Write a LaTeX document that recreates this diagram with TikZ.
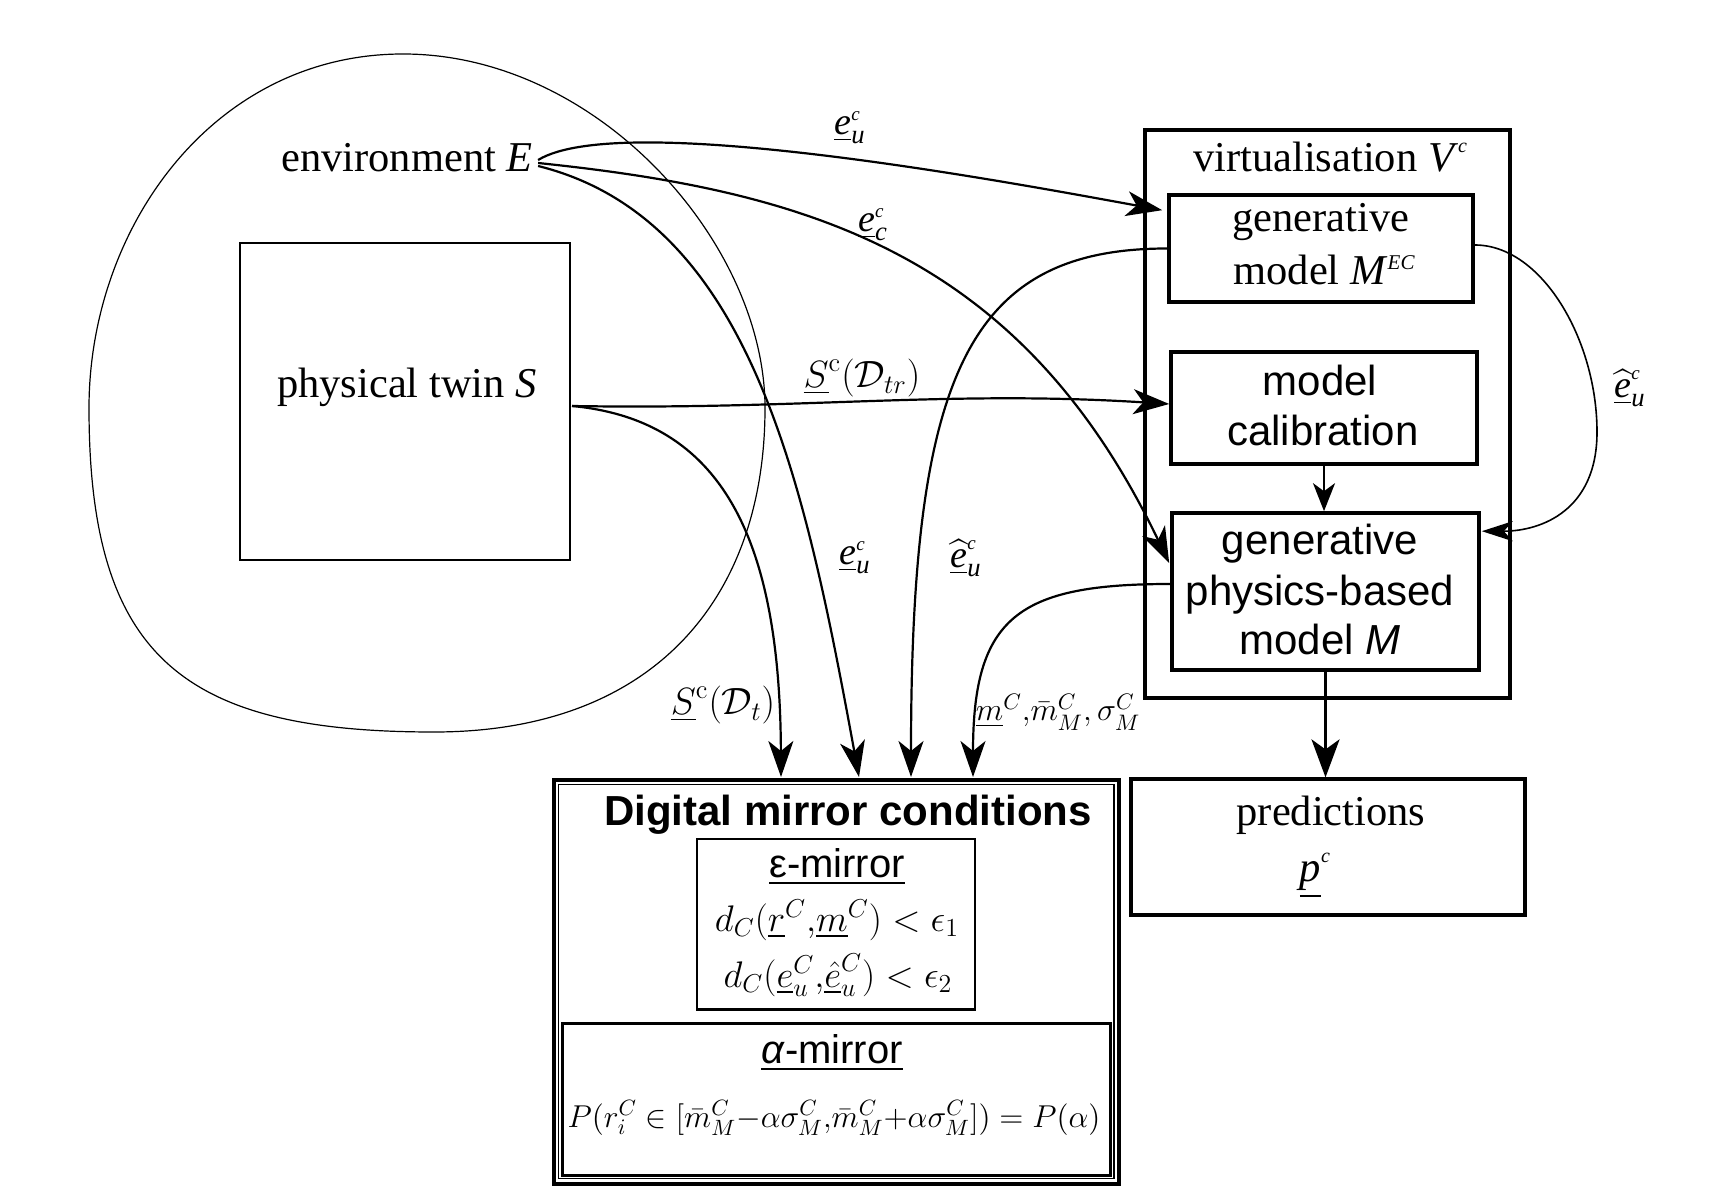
\RequirePackage{fix-cm}
\documentclass[tikz,border=0pt]{standalone}
\usepackage{amsmath}
\usepackage[no-math]{fontspec}
\setmainfont{Liberation Serif}
\setsansfont{Liberation Sans}
\usetikzlibrary{arrows.meta,calc}
\newcommand{\tsup}[3]{\raisebox{#1}{\fontsize{#2}{#2}\selectfont\itshape #3}}
\newcommand{\ue}{\underline{\textit{e}}}
\newcommand{\uhe}{\widehat{\underline{\textit{e}}}}
\newcommand{\elab}[3]{$#1^{\scriptscriptstyle\textit{#3}}_{\textit{#2}}$}
\begin{document}
\begin{tikzpicture}[x=0.5pt,y=-0.5pt,
  box/.style={draw, line width=1.8pt, inner sep=0pt},
  serif/.style={font=\fontsize{21.25pt}{26pt}\selectfont, anchor=base, inner sep=0pt},
  sans/.style={font=\sffamily\fontsize{21pt}{25pt}\selectfont, anchor=base, inner sep=0pt},
  lbl/.style={font=\fontsize{19pt}{22pt}\selectfont, inner sep=0pt},
  conn/.style={line width=1.1pt, -{Stealth[length=18pt,width=12.5pt,inset=5pt]}},
  thinconn/.style={line width=0.8pt, -{Stealth[length=15.5pt,width=10pt,inset=4.5pt]}},
]
\useasboundingbox (0,0) rectangle (1711,1202);

% environment blob
\draw[line width=0.6pt] (403,54) .. controls (598,54) and (765,243) .. (765,408)
  .. controls (765,598) and (654,732) .. (434,732)
  .. controls (184,732) and (89,658) .. (89,408)
  .. controls (89,228) and (213,54) .. cycle;

% left side
\node[serif] (E) at (407,172) {environment \textit{E}};
\node[box, line width=1pt, minimum width=165pt, minimum height=158.5pt] (S) at (405,401.5) {};
\node[serif] (St) at (407,398) {physical twin \textit{S}};

% virtualisation
\node[box, line width=1.6pt, minimum width=182.5pt, minimum height=284pt] (V) at (1327.5,414) {};
\node[serif] (Vt) at (1330,172) {virtualisation \textit{V}\tsup{9.5pt}{10pt}{c}};

\node[box, minimum width=152pt, minimum height=53.5pt] (gm) at (1321,248.5) {};
\node[serif] (gmt1) at (1321,232) {generative};
\node[serif] (gmt2) at (1324,285) {model \textit{M}\tsup{7.5pt}{10.5pt}{EC}};

\node[box, minimum width=153pt, minimum height=56pt] (cal) at (1324,408) {};
\node[sans] (calt1) at (1320,396) {model};
\node[sans] (calt2) at (1323,446) {calibration};

\node[box, minimum width=153.5pt, minimum height=78.5pt] (pm) at (1325.5,591.5) {};
\node[sans] (pmt1) at (1320,555) {generative};
\node[sans] (pmt2) at (1320,605) {physics-based};
\node[sans] (pmt3) at (1320,654.5) {model \textit{M}};

\node[box, line width=1.6pt, minimum width=197pt, minimum height=68pt] (pred) at (1328,847) {};
\node[serif] (predt1) at (1331,825) {predictions};
\node[serif] (predt2) at (1315,881) {\underline{\textit{p}}\tsup{9.5pt}{10pt}{c}};

% digital mirror conditions
\node[draw, line width=2pt, inner sep=0pt, minimum width=282.75pt, minimum height=202pt] (dm) at (836.25,982) {};
\node[draw, line width=0.7pt, inner sep=0pt, minimum width=277.75pt, minimum height=197pt] (dmin) at (836.25,981.5) {};
\node[draw, line width=1.4pt, inner sep=0pt, minimum width=139pt, minimum height=85.25pt] (eps) at (836,924.25) {};
\node[draw, line width=1.5pt, inner sep=0pt, minimum width=274pt, minimum height=75.75pt] (alp) at (836.5,1099.25) {};
\node[sans, font=\sffamily\bfseries\fontsize{21pt}{25pt}\selectfont] (dmt) at (848,825) {Digital mirror conditions};
\node[sans, font=\sffamily\fontsize{20pt}{24pt}\selectfont] (epst) at (837,877) {\underline{ε-mirror}};
\node[anchor=base, inner sep=0pt, font=\fontsize{18.5pt}{22pt}\selectfont] (eq1) at (837,931) {$d_C(\underline{r}^C{,}\underline{m}^C) < \epsilon_1$};
\node[anchor=base, inner sep=0pt, font=\fontsize{18.5pt}{22pt}\selectfont] (eq2) at (838,987) {$d_C(\underline{e}^C_u{,}\underline{\hat{e}}^C_u) < \epsilon_2$};
\node[sans, font=\sffamily\fontsize{20pt}{24pt}\selectfont] (alpt) at (832,1063) {\underline{\textit{α}-mirror}};
\node[anchor=base, inner sep=0pt, font=\fontsize{15.8pt}{19pt}\selectfont] (eq3) at (834,1127) {$P(r^C_i\in[\bar{m}^C_M{-}\alpha\sigma^C_M{,}\bar{m}^C_M{+}\alpha\sigma^C_M])=P(\alpha)$};

% connector end points
\coordinate (E1) at ($(E.base east)+(5,-12)$);
\coordinate (E2) at ($(E.base east)+(5,-9)$);
\coordinate (E3) at ($(E.base east)+(5,-6)$);
\coordinate (S1) at ($(S.east)+(1,4.5)$);
\coordinate (gmin) at ($(gm.north west)+(-5,17)$);
\coordinate (pmin) at ($(pm.north west)+(-1,52)$);
\coordinate (calin) at ($(cal.west)+(0,-4)$);
\coordinate (dm1) at ($(dm.north west)+(229.5,-1)$);
\coordinate (dm2) at ($(dm.north west)+(307.5,-1)$);
\coordinate (dm3) at ($(dm.north west)+(359.5,-1)$);
\coordinate (dm4) at ($(dm.north west)+(421.5,-1)$);
\coordinate (pmout) at ($(pm.west)+(0,-7.5)$);
\coordinate (gmr) at ($(gm.east)+(0,-3.5)$);
\coordinate (loopmid) at (1597,432);
\coordinate (pmr) at ($(pm.north east)+(1,20)$);

% connectors
\draw[conn] (E1) .. controls +(82,-50) and +(-164,-30) .. (gmin);
\draw[conn] (E2) .. controls +(269,28) and +(-149,-311) .. (pmin);
\draw[conn] (E3) .. controls +(213,53) and +(-54,-294) .. (dm2);
\draw[conn] (S1) .. controls +(229,4) and +(-221,-14) .. (calin);
\draw[conn] (S1) .. controls +(149,14) and +(-1,-240) .. (dm1);
\draw[conn] (gm.west) .. controls +(-200,0) and +(0,-401) .. (dm3);
\draw[conn] (pmout) .. controls +(-152,0) and +(0,-160) .. (dm4);
\draw[thinconn] (gmr) .. controls +(67,0) and +(0,-92) .. (loopmid) .. controls +(0,78) and +(60,0) .. (pmr);
\draw[line width=1.1pt, -{Stealth[length=14pt,width=11pt,inset=4pt]}] (cal.south) -- (cal.south |- pm.north);
\draw[line width=1.4pt, -{Stealth[length=19pt,width=14pt,inset=5pt]}] (pm.south) -- (pm.south |- pred.north);

% labels
\node[lbl] (l1) at (850,128) {\elab{\ue}{u}{c}};
\node[lbl] (l2) at (873,225) {\elab{\ue}{c}{c}};
\node[lbl] (l3) at (862,378) {$\underline{S}^{\mathrm{c}}(\mathcal{D}_{tr})$};
\node[lbl] (l4) at (855,558) {\elab{\ue}{u}{c}};
\node[lbl] (l5) at (966,558) {\elab{\uhe}{u}{c}};
\node[lbl] (l6) at (723,705) {$\underline{S}^{\mathrm{c}}(\mathcal{D}_{t})$};
\node[lbl, font=\fontsize{16pt}{19pt}\selectfont] (l7) at (1058,712) {$\underline{m}^C{,}\bar{m}^C_M,\sigma^C_M$};
\node[lbl] (l8) at (1630,388) {\elab{\uhe}{u}{c}};
\end{tikzpicture}
\end{document}
